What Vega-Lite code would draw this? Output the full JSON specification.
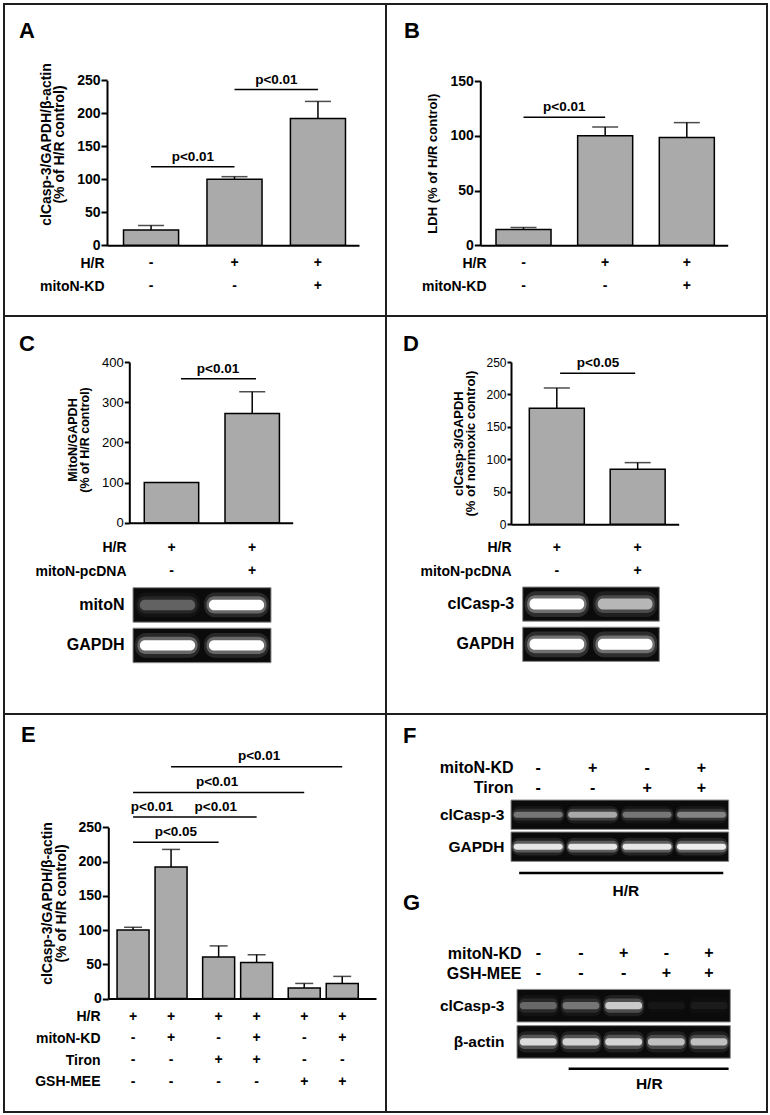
{
"$schema": "https://vega.github.io/schema/vega-lite/v6.json",
"padding": {"left": 3, "top": 3, "right": 0, "bottom": 0},
"background": "white",
"columns": 2,
"spacing": 0,
"bounds": "flush",
"align": "each",
"config": {
 "font": "Liberation Sans",
 "view": {"stroke": "#1e1e1e", "strokeWidth": 2},
 "axis": {"grid": false, "domainColor": "black", "tickColor": "black", "labelColor": "black", "titleColor": "black", "labelFont": "Liberation Sans", "titleFont": "Liberation Sans", "domainWidth": 2, "tickWidth": 2, "labelFontWeight": "bold", "labelFontSize": 14, "titleFontWeight": "bold", "titleFontSize": 14, "titleLineHeight": 14, "labelOverlap": false, "labelPadding": 1, "tickSize": 6},
 "title": {"font": "Liberation Sans", "fontWeight": "bold", "fontSize": 22, "color": "black", "anchor": "start", "frame": "group", "baseline": "alphabetic"},
 "legend": {"disable": true}
},
"datasets": {
 "A_bars": [{"c":"1","v":23,"e":30},{"c":"2","v":100,"e":104},{"c":"3","v":192,"e":218}],
 "A_sig": [{"from":"1","to":"2","y":119,"label":"p<0.01"},{"from":"2","to":"3","y":236,"label":"p<0.01"}],
 "AB_table": [{"row":"H/R","c":"1","s":"-"},{"row":"H/R","c":"2","s":"+"},{"row":"H/R","c":"3","s":"+"},{"row":"mitoN-KD","c":"1","s":"-"},{"row":"mitoN-KD","c":"2","s":"-"},{"row":"mitoN-KD","c":"3","s":"+"}],
 "B_bars": [{"c":"1","v":14.5,"e":16.3},{"c":"2","v":100,"e":108},{"c":"3","v":98.5,"e":112}],
 "B_sig": [{"from":"1","to":"2","y":117,"label":"p<0.01"}],
 "C_bars": [{"c":"1","v":100,"e":null},{"c":"2","v":272,"e":326}],
 "C_sig": [{"from":"1","to":"2","y":358,"label":"p<0.01"}],
 "CD_table": [{"row":"H/R","c":"1","s":"+"},{"row":"H/R","c":"2","s":"+"},{"row":"mitoN-pcDNA","c":"1","s":"-"},{"row":"mitoN-pcDNA","c":"2","s":"+"}],
 "C_blot": [{"lane":"1","row":"mitoN","i":0.28},{"lane":"2","row":"mitoN","i":1},{"lane":"1","row":"GAPDH","i":1},{"lane":"2","row":"GAPDH","i":1}],
 "C_strip": [{"row":"mitoN","first":"1","last":"2"},{"row":"GAPDH","first":"1","last":"2"}],
 "D_bars": [{"c":"1","v":178.7,"e":210},{"c":"2","v":84.7,"e":95}],
 "D_sig": [{"from":"1","to":"2","y":232.6,"label":"p<0.05"}],
 "D_blot": [{"lane":"1","row":"clCasp-3","i":1},{"lane":"2","row":"clCasp-3","i":0.6},{"lane":"1","row":"GAPDH","i":1},{"lane":"2","row":"GAPDH","i":1}],
 "D_strip": [{"row":"clCasp-3","first":"1","last":"2"},{"row":"GAPDH","first":"1","last":"2"}],
 "E_bars": [{"g":"g1","m":"m1","v":100,"e":104},{"g":"g1","m":"m2","v":192,"e":217.7},{"g":"g2","m":"m1","v":60.5,"e":76.8},{"g":"g2","m":"m2","v":52.7,"e":64},{"g":"g3","m":"m1","v":15.3,"e":22},{"g":"g3","m":"m2","v":22,"e":32.3}],
 "E_sig": [{"id":"L1","fromG":"g1","toG":"g1","pair":"m1m2","y":265,"label":"p<0.01"},{"id":"L2","fromG":"g1","toG":"g2","pair":"m1m1","y":228,"label":"p<0.05"},{"id":"L3","fromG":"g1","toG":"g2","pair":"m2m2","y":265,"label":"p<0.01"},{"id":"L4","fromG":"g1","toG":"g3","pair":"m1m1","y":301,"label":"p<0.01"},{"id":"L5","fromG":"g1","toG":"g3","pair":"m2m2","y":338.5,"label":"p<0.01"}],
 "E_table": [
  {"row":"H/R","g":"g1","m":"m1","s":"+"},{"row":"H/R","g":"g1","m":"m2","s":"+"},{"row":"H/R","g":"g2","m":"m1","s":"+"},{"row":"H/R","g":"g2","m":"m2","s":"+"},{"row":"H/R","g":"g3","m":"m1","s":"+"},{"row":"H/R","g":"g3","m":"m2","s":"+"},
  {"row":"mitoN-KD","g":"g1","m":"m1","s":"-"},{"row":"mitoN-KD","g":"g1","m":"m2","s":"+"},{"row":"mitoN-KD","g":"g2","m":"m1","s":"-"},{"row":"mitoN-KD","g":"g2","m":"m2","s":"+"},{"row":"mitoN-KD","g":"g3","m":"m1","s":"-"},{"row":"mitoN-KD","g":"g3","m":"m2","s":"+"},
  {"row":"Tiron","g":"g1","m":"m1","s":"-"},{"row":"Tiron","g":"g1","m":"m2","s":"-"},{"row":"Tiron","g":"g2","m":"m1","s":"+"},{"row":"Tiron","g":"g2","m":"m2","s":"+"},{"row":"Tiron","g":"g3","m":"m1","s":"-"},{"row":"Tiron","g":"g3","m":"m2","s":"-"},
  {"row":"GSH-MEE","g":"g1","m":"m1","s":"-"},{"row":"GSH-MEE","g":"g1","m":"m2","s":"-"},{"row":"GSH-MEE","g":"g2","m":"m1","s":"-"},{"row":"GSH-MEE","g":"g2","m":"m2","s":"-"},{"row":"GSH-MEE","g":"g3","m":"m1","s":"+"},{"row":"GSH-MEE","g":"g3","m":"m2","s":"+"}],
 "F_table": [{"row":"mitoN-KD","lane":"1","s":"-"},{"row":"mitoN-KD","lane":"2","s":"+"},{"row":"mitoN-KD","lane":"3","s":"-"},{"row":"mitoN-KD","lane":"4","s":"+"},{"row":"Tiron","lane":"1","s":"-"},{"row":"Tiron","lane":"2","s":"-"},{"row":"Tiron","lane":"3","s":"+"},{"row":"Tiron","lane":"4","s":"+"}],
 "F_blot": [{"lane":"1","row":"clCasp-3","i":0.35},{"lane":"2","row":"clCasp-3","i":0.55},{"lane":"3","row":"clCasp-3","i":0.35},{"lane":"4","row":"clCasp-3","i":0.4},{"lane":"1","row":"GAPDH","i":0.85},{"lane":"2","row":"GAPDH","i":0.85},{"lane":"3","row":"GAPDH","i":0.85},{"lane":"4","row":"GAPDH","i":0.9}],
 "F_strip": [{"row":"clCasp-3","first":"1","last":"4"},{"row":"GAPDH","first":"1","last":"4"}],
 "F_hr": [{"kind":"line","a":"1","b":"4","text":""},{"kind":"label","a":"3","b":"3","text":"H/R"}],
 "G_table": [{"row":"mitoN-KD","lane":"1","s":"-"},{"row":"mitoN-KD","lane":"2","s":"-"},{"row":"mitoN-KD","lane":"3","s":"+"},{"row":"mitoN-KD","lane":"4","s":"-"},{"row":"mitoN-KD","lane":"5","s":"+"},{"row":"GSH-MEE","lane":"1","s":"-"},{"row":"GSH-MEE","lane":"2","s":"-"},{"row":"GSH-MEE","lane":"3","s":"-"},{"row":"GSH-MEE","lane":"4","s":"+"},{"row":"GSH-MEE","lane":"5","s":"+"}],
 "G_blot": [{"lane":"1","row":"clCasp-3","i":0.3},{"lane":"2","row":"clCasp-3","i":0.35},{"lane":"3","row":"clCasp-3","i":0.7},{"lane":"4","row":"clCasp-3","i":0.04},{"lane":"5","row":"clCasp-3","i":0.05},{"lane":"1","row":"β-actin","i":0.8},{"lane":"2","row":"β-actin","i":0.75},{"lane":"3","row":"β-actin","i":0.75},{"lane":"4","row":"β-actin","i":0.65},{"lane":"5","row":"β-actin","i":0.65}],
 "G_strip": [{"row":"clCasp-3","first":"1","last":"5"},{"row":"β-actin","first":"1","last":"5"}],
 "G_hr": [{"kind":"line","a":"2","b":"5","text":""},{"kind":"label","a":"4","b":"4","text":"H/R"}]
},
"concat": [
  {
   "width": 382, "height": 312,
   "title": {"text": "A", "offset": -38.7, "dx": 15},
   "resolve": {"scale": {"y": "independent"}},
   "layer": [
    {"layer": [
     {"data": {"name": "A_bars"}, "mark": {"type": "bar", "fill": "#aaaaaa", "stroke": "black", "strokeWidth": 1.5},
      "encoding": {
       "x": {"field": "c", "type": "nominal", "scale": {"domain": ["1","2","3"], "range": [103, 355], "paddingInner": 0.34, "paddingOuter": 0.18, "align": 0.55}, "axis": {"orient": "bottom", "offset": -70.7, "labels": false, "ticks": false, "title": null}},
       "y": {"field": "v", "type": "quantitative", "scale": {"domain": [0, 250], "range": [241.3, 76.3], "nice": false}, "axis": {"orient": "left", "offset": -103, "values": [0,50,100,150,200,250], "title": ["clCasp-3/GAPDH/β-actin", "(% of H/R control)"], "titleFontSize": 14, "titleLineHeight": 13.5, "titlePadding": 10, "titleY": 140}}
      }},
     {"data": {"name": "A_bars"}, "mark": {"type": "rule", "color": "black", "strokeWidth": 1.5},
      "encoding": {"x": {"field": "c", "type": "nominal"}, "y": {"field": "v", "type": "quantitative"}, "y2": {"field": "e"}}},
     {"data": {"name": "A_bars"}, "mark": {"type": "tick", "color": "black", "thickness": 1.5, "size": 26},
      "encoding": {"x": {"field": "c", "type": "nominal"}, "y": {"field": "e", "type": "quantitative"}}},
     {"data": {"name": "A_sig"}, "mark": {"type": "rule", "color": "black", "strokeWidth": 1.5},
      "encoding": {"x": {"field": "from", "type": "nominal", "bandPosition": 0.5}, "x2": {"field": "to", "bandPosition": 0.5}, "y": {"field": "y", "type": "quantitative"}}},
     {"data": {"name": "A_sig"}, "mark": {"type": "text", "dy": -6, "baseline": "alphabetic", "fontSize": 13.5, "fontWeight": "bold", "color": "black"},
      "encoding": {"x": {"field": "from", "type": "nominal", "bandPosition": 1.26}, "y": {"field": "y", "type": "quantitative"}, "text": {"field": "label"}}}
    ]},
    {"data": {"name": "AB_table"}, "mark": {"type": "text", "fontSize": 14, "fontWeight": "bold", "color": "black", "baseline": "middle"},
     "encoding": {"x": {"field": "c", "type": "nominal"}, "y": {"field": "row", "type": "nominal", "scale": {"type": "point", "domain": ["H/R","mitoN-KD"], "range": [259.3, 282], "padding": 0}, "axis": {"orient": "left", "offset": -103, "domain": false, "ticks": false, "labelPadding": 3, "title": null}}, "text": {"field": "s"}}}
   ]
  },
  {
   "width": 381, "height": 312,
   "title": {"text": "B", "offset": -38.7, "dx": 18},
   "resolve": {"scale": {"y": "independent"}},
   "layer": [
    {"layer": [
     {"data": {"name": "B_bars"}, "mark": {"type": "bar", "fill": "#aaaaaa", "stroke": "black", "strokeWidth": 1.5},
      "encoding": {
       "x": {"field": "c", "type": "nominal", "scale": {"domain": ["1","2","3"], "range": [94.3, 341.7], "paddingInner": 0.326, "paddingOuter": 0.178, "align": 0.54}, "axis": {"orient": "bottom", "offset": -70.7, "labels": false, "ticks": false, "title": null}},
       "y": {"field": "v", "type": "quantitative", "scale": {"domain": [0, 150], "range": [241.3, 77], "nice": false}, "axis": {"orient": "left", "offset": -94.3, "values": [0,50,100,150], "title": "LDH (% of H/R control)", "titleFontSize": 13, "titlePadding": 10}}
      }},
     {"data": {"name": "B_bars"}, "mark": {"type": "rule", "color": "black", "strokeWidth": 1.5},
      "encoding": {"x": {"field": "c", "type": "nominal"}, "y": {"field": "v", "type": "quantitative"}, "y2": {"field": "e"}}},
     {"data": {"name": "B_bars"}, "mark": {"type": "tick", "color": "black", "thickness": 1.5, "size": 26},
      "encoding": {"x": {"field": "c", "type": "nominal"}, "y": {"field": "e", "type": "quantitative"}}},
     {"data": {"name": "B_sig"}, "mark": {"type": "rule", "color": "black", "strokeWidth": 1.5},
      "encoding": {"x": {"field": "from", "type": "nominal", "bandPosition": 0.5}, "x2": {"field": "to", "bandPosition": 0.5}, "y": {"field": "y", "type": "quantitative"}}},
     {"data": {"name": "B_sig"}, "mark": {"type": "text", "dy": -6, "baseline": "alphabetic", "fontSize": 13.5, "fontWeight": "bold", "color": "black"},
      "encoding": {"x": {"field": "from", "type": "nominal", "bandPosition": 1.24}, "y": {"field": "y", "type": "quantitative"}, "text": {"field": "label"}}}
    ]},
    {"data": {"name": "AB_table"}, "mark": {"type": "text", "fontSize": 14, "fontWeight": "bold", "color": "black", "baseline": "middle"},
     "encoding": {"x": {"field": "c", "type": "nominal"}, "y": {"field": "row", "type": "nominal", "scale": {"type": "point", "domain": ["H/R","mitoN-KD"], "range": [259.3, 282], "padding": 0}, "axis": {"orient": "left", "offset": -103, "domain": false, "ticks": false, "labelPadding": 3, "title": null}}, "text": {"field": "s"}}}
   ]
  },
  {
   "width": 382, "height": 398,
   "title": {"text": "C", "offset": -40, "dx": 15},
   "resolve": {"scale": {"x": "independent", "y": "independent"}},
   "layer": [
    {"resolve": {"scale": {"y": "independent"}},
     "layer": [
     {"layer": [
      {"data": {"name": "C_bars"}, "mark": {"type": "bar", "fill": "#aaaaaa", "stroke": "black", "strokeWidth": 1.5},
       "encoding": {
        "x": {"field": "c", "type": "nominal", "scale": {"domain": ["1","2"], "range": [125.3, 288.7], "paddingInner": 0.326, "paddingOuter": 0.175, "align": 0.53}, "axis": {"orient": "bottom", "offset": -191.3, "labels": false, "ticks": false, "title": null}},
        "y": {"field": "v", "type": "quantitative", "scale": {"domain": [0, 400], "range": [206.7, 46], "nice": false}, "axis": {"orient": "left", "offset": -125.3, "values": [0,100,200,300,400], "labelFontWeight": "normal", "labelFontSize": 13, "tickSize": 5, "title": ["MitoN/GAPDH", "(% of H/R control)"], "titleFontSize": 12.5, "titleLineHeight": 12.5, "titlePadding": 10, "titleY": 123.5}}
       }},
      {"data": {"name": "C_bars"}, "transform": [{"filter": "datum.e != null"}], "mark": {"type": "rule", "color": "black", "strokeWidth": 1.5},
       "encoding": {"x": {"field": "c", "type": "nominal"}, "y": {"field": "v", "type": "quantitative"}, "y2": {"field": "e"}}},
      {"data": {"name": "C_bars"}, "transform": [{"filter": "datum.e != null"}], "mark": {"type": "tick", "color": "black", "thickness": 1.5, "size": 26},
       "encoding": {"x": {"field": "c", "type": "nominal"}, "y": {"field": "e", "type": "quantitative"}}},
      {"data": {"name": "C_sig"}, "mark": {"type": "rule", "color": "black", "strokeWidth": 1.5},
       "encoding": {"x": {"field": "from", "type": "nominal", "bandPosition": 0.675}, "x2": {"field": "to", "bandPosition": 0.57}, "y": {"field": "y", "type": "quantitative"}}},
      {"data": {"name": "C_sig"}, "mark": {"type": "text", "dy": -6, "baseline": "alphabetic", "fontSize": 13.5, "fontWeight": "bold", "color": "black"},
       "encoding": {"x": {"field": "from", "type": "nominal", "bandPosition": 1.355}, "y": {"field": "y", "type": "quantitative"}, "text": {"field": "label"}}}
     ]},
     {"data": {"name": "CD_table"}, "mark": {"type": "text", "fontSize": 14, "fontWeight": "bold", "color": "black", "baseline": "middle"},
      "encoding": {"x": {"field": "c", "type": "nominal"}, "y": {"field": "row", "type": "nominal", "scale": {"type": "point", "domain": ["H/R","mitoN-pcDNA"], "range": [231.7, 255.3], "padding": 0}, "axis": {"orient": "left", "offset": -125, "domain": false, "ticks": false, "labelPadding": 3, "title": null}}, "text": {"field": "s"}}}
    ]},
    {"resolve": {"scale": {"opacity": "independent"}},
     "layer": [
     {"data": {"name": "C_strip"}, "mark": {"type": "rect", "fill": "#0b0b0b", "stroke": "#8c8c8c", "strokeWidth": 1},
      "encoding": {
       "x": {"field": "first", "type": "nominal", "bandPosition": 0, "scale": {"domain": ["1","2"], "range": [129, 267], "paddingInner": 0, "paddingOuter": 0}, "axis": null},
       "x2": {"field": "last", "bandPosition": 1},
       "y": {"field": "row", "type": "nominal", "scale": {"domain": ["mitoN","GAPDH"], "range": [271.7, 346.7], "paddingInner": 0.148, "paddingOuter": 0}, "axis": {"orient": "left", "offset": -129, "domain": false, "ticks": false, "labelPadding": 9, "labelFontSize": 16, "title": null}}
      }},
     {"data": {"name": "C_blot"}, "mark": {"type": "rect", "fill": "white", "width": {"band": 0.94}, "height": {"band": 0.72}, "cornerRadius": 11},
      "encoding": {"x": {"field": "lane", "type": "nominal"}, "y": {"field": "row", "type": "nominal"}, "opacity": {"field": "i", "type": "quantitative", "scale": {"domain": [0, 1], "range": [0, 0.12]}, "legend": null}}},
     {"data": {"name": "C_blot"}, "mark": {"type": "rect", "fill": "white", "width": {"band": 0.87}, "height": {"band": 0.5}, "cornerRadius": 8},
      "encoding": {"x": {"field": "lane", "type": "nominal"}, "y": {"field": "row", "type": "nominal"}, "opacity": {"field": "i", "type": "quantitative", "scale": {"domain": [0, 1], "range": [0, 0.3]}, "legend": null}}},
     {"data": {"name": "C_blot"}, "mark": {"type": "rect", "fill": "white", "width": {"band": 0.8}, "height": {"band": 0.3}, "cornerRadius": 5},
      "encoding": {"x": {"field": "lane", "type": "nominal"}, "y": {"field": "row", "type": "nominal"}, "opacity": {"field": "i", "type": "quantitative", "scale": {"domain": [0, 1], "range": [0, 1]}, "legend": null}}}
    ]}
   ]
  },
  {
   "width": 381, "height": 398,
   "title": {"text": "D", "offset": -40, "dx": 17},
   "resolve": {"scale": {"x": "independent", "y": "independent"}},
   "layer": [
    {"resolve": {"scale": {"y": "independent"}},
     "layer": [
     {"layer": [
      {"data": {"name": "D_bars"}, "mark": {"type": "bar", "fill": "#aaaaaa", "stroke": "black", "strokeWidth": 1.5},
       "encoding": {
        "x": {"field": "c", "type": "nominal", "scale": {"domain": ["1","2"], "range": [125, 292.7], "paddingInner": 0.32, "paddingOuter": 0.197, "align": 0.575}, "axis": {"orient": "bottom", "offset": -189.7, "labels": false, "ticks": false, "title": null}},
        "y": {"field": "v", "type": "quantitative", "scale": {"domain": [0, 250], "range": [208.3, 46], "nice": false}, "axis": {"orient": "left", "offset": -125, "values": [0,50,100,150,200,250], "labelFontWeight": "normal", "labelFontSize": 12, "tickSize": 4, "title": ["clCasp-3/GAPDH", "(% of normoxic control)"], "titleFontSize": 13, "titleLineHeight": 12.5, "titlePadding": 8}}
       }},
      {"data": {"name": "D_bars"}, "mark": {"type": "rule", "color": "black", "strokeWidth": 1.5},
       "encoding": {"x": {"field": "c", "type": "nominal"}, "y": {"field": "v", "type": "quantitative"}, "y2": {"field": "e"}}},
      {"data": {"name": "D_bars"}, "mark": {"type": "tick", "color": "black", "thickness": 1.5, "size": 26},
       "encoding": {"x": {"field": "c", "type": "nominal"}, "y": {"field": "e", "type": "quantitative"}}},
      {"data": {"name": "D_sig"}, "mark": {"type": "rule", "color": "black", "strokeWidth": 1.5},
       "encoding": {"x": {"field": "from", "type": "nominal", "bandPosition": 0.56}, "x2": {"field": "to", "bandPosition": 0.455}, "y": {"field": "y", "type": "quantitative"}}},
      {"data": {"name": "D_sig"}, "mark": {"type": "text", "dy": -6, "baseline": "alphabetic", "fontSize": 13.5, "fontWeight": "bold", "color": "black"},
       "encoding": {"x": {"field": "from", "type": "nominal", "bandPosition": 1.25}, "y": {"field": "y", "type": "quantitative"}, "text": {"field": "label"}}}
     ]},
     {"data": {"name": "CD_table"}, "mark": {"type": "text", "fontSize": 14, "fontWeight": "bold", "color": "black", "baseline": "middle"},
      "encoding": {"x": {"field": "c", "type": "nominal"}, "y": {"field": "row", "type": "nominal", "scale": {"type": "point", "domain": ["H/R","mitoN-pcDNA"], "range": [231.7, 255.3], "padding": 0}, "axis": {"orient": "left", "offset": -128, "domain": false, "ticks": false, "labelPadding": 3, "title": null}}, "text": {"field": "s"}}}
    ]},
    {"resolve": {"scale": {"opacity": "independent"}},
     "layer": [
     {"data": {"name": "D_strip"}, "mark": {"type": "rect", "fill": "#0b0b0b", "stroke": "#8c8c8c", "strokeWidth": 1},
      "encoding": {
       "x": {"field": "first", "type": "nominal", "bandPosition": 0, "scale": {"domain": ["1","2"], "range": [136.7, 273.3], "paddingInner": 0, "paddingOuter": 0}, "axis": null},
       "x2": {"field": "last", "bandPosition": 1},
       "y": {"field": "row", "type": "nominal", "scale": {"domain": ["clCasp-3","GAPDH"], "range": [271, 345.4], "paddingInner": 0.15, "paddingOuter": 0}, "axis": {"orient": "left", "offset": -136.7, "domain": false, "ticks": false, "labelPadding": 9, "labelFontSize": 16, "title": null}}
      }},
     {"data": {"name": "D_blot"}, "mark": {"type": "rect", "fill": "white", "width": {"band": 0.94}, "height": {"band": 0.75}, "cornerRadius": 11},
      "encoding": {"x": {"field": "lane", "type": "nominal"}, "y": {"field": "row", "type": "nominal"}, "opacity": {"field": "i", "type": "quantitative", "scale": {"domain": [0, 1], "range": [0, 0.14]}, "legend": null}}},
     {"data": {"name": "D_blot"}, "mark": {"type": "rect", "fill": "white", "width": {"band": 0.87}, "height": {"band": 0.52}, "cornerRadius": 8},
      "encoding": {"x": {"field": "lane", "type": "nominal"}, "y": {"field": "row", "type": "nominal"}, "opacity": {"field": "i", "type": "quantitative", "scale": {"domain": [0, 1], "range": [0, 0.32]}, "legend": null}}},
     {"data": {"name": "D_blot"}, "mark": {"type": "rect", "fill": "white", "width": {"band": 0.8}, "height": {"band": 0.32}, "cornerRadius": 5},
      "encoding": {"x": {"field": "lane", "type": "nominal"}, "y": {"field": "row", "type": "nominal"}, "opacity": {"field": "i", "type": "quantitative", "scale": {"domain": [0, 1], "range": [0, 1]}, "legend": null}}}
    ]}
   ]
  },
  {
   "width": 382, "height": 398,
   "title": {"text": "E", "offset": -32.7, "dx": 17},
   "resolve": {"scale": {"y": "independent"}},
   "layer": [
    {"layer": [
     {"data": {"name": "E_bars"}, "mark": {"type": "bar", "fill": "#aaaaaa", "stroke": "black", "strokeWidth": 1.5},
      "encoding": {
       "x": {"field": "g", "type": "nominal", "scale": {"domain": ["g1","g2","g3"], "range": [104.3, 372], "paddingInner": 0.182, "paddingOuter": 0.155, "align": 0.33}, "axis": {"orient": "bottom", "offset": -113.5, "labels": false, "ticks": false, "title": null}},
       "xOffset": {"field": "m", "type": "nominal", "scale": {"domain": ["m1","m2"], "paddingInner": 0.158, "paddingOuter": 0}},
       "y": {"field": "v", "type": "quantitative", "scale": {"domain": [0, 250], "range": [284.5, 113.3], "nice": false}, "axis": {"orient": "left", "offset": -104.3, "values": [0,50,100,150,200,250], "title": ["clCasp-3/GAPDH/β-actin", "(% of H/R control)"], "titleFontSize": 14, "titleLineHeight": 14.5, "titlePadding": 9, "titleY": 189}}
      }},
     {"data": {"name": "E_bars"}, "mark": {"type": "rule", "color": "black", "strokeWidth": 1.5},
      "encoding": {"x": {"field": "g", "type": "nominal"}, "xOffset": {"field": "m", "type": "nominal"}, "y": {"field": "v", "type": "quantitative"}, "y2": {"field": "e"}}},
     {"data": {"name": "E_bars"}, "mark": {"type": "tick", "color": "black", "thickness": 1.5, "size": 18},
      "encoding": {"x": {"field": "g", "type": "nominal"}, "xOffset": {"field": "m", "type": "nominal"}, "y": {"field": "e", "type": "quantitative"}}},
     {"data": {"name": "E_sig"}, "transform": [{"filter": "datum.pair == 'm1m1'"}], "mark": {"type": "rule", "color": "black", "strokeWidth": 1.5},
      "encoding": {"x": {"field": "fromG", "type": "nominal", "bandPosition": 0.2286}, "x2": {"field": "toG", "bandPosition": 0.2286}, "y": {"field": "y", "type": "quantitative"}}},
     {"data": {"name": "E_sig"}, "transform": [{"filter": "datum.pair == 'm2m2'"}], "mark": {"type": "rule", "color": "black", "strokeWidth": 1.5},
      "encoding": {"x": {"field": "fromG", "type": "nominal", "bandPosition": 0.7714}, "x2": {"field": "toG", "bandPosition": 0.7714}, "y": {"field": "y", "type": "quantitative"}}},
     {"data": {"name": "E_sig"}, "transform": [{"filter": "datum.pair == 'm1m2'"}], "mark": {"type": "rule", "color": "black", "strokeWidth": 1.5},
      "encoding": {"x": {"field": "fromG", "type": "nominal", "bandPosition": 0.2286}, "x2": {"field": "toG", "bandPosition": 0.7714}, "y": {"field": "y", "type": "quantitative"}}},
     {"data": {"name": "E_sig"}, "transform": [{"filter": "datum.id == 'L1'"}], "mark": {"type": "text", "dy": -6.5, "baseline": "alphabetic", "fontSize": 13.5, "fontWeight": "bold", "color": "black"},
      "encoding": {"x": {"field": "fromG", "type": "nominal", "bandPosition": 0.5}, "y": {"field": "y", "type": "quantitative"}, "text": {"field": "label"}}},
     {"data": {"name": "E_sig"}, "transform": [{"filter": "datum.id == 'L2'"}], "mark": {"type": "text", "dy": -6.5, "baseline": "alphabetic", "fontSize": 13.5, "fontWeight": "bold", "color": "black"},
      "encoding": {"x": {"field": "fromG", "type": "nominal", "bandPosition": 0.84}, "y": {"field": "y", "type": "quantitative"}, "text": {"field": "label"}}},
     {"data": {"name": "E_sig"}, "transform": [{"filter": "datum.id == 'L3'"}], "mark": {"type": "text", "dy": -6.5, "baseline": "alphabetic", "fontSize": 13.5, "fontWeight": "bold", "color": "black"},
      "encoding": {"x": {"field": "fromG", "type": "nominal", "bandPosition": 1.41}, "y": {"field": "y", "type": "quantitative"}, "text": {"field": "label"}}},
     {"data": {"name": "E_sig"}, "transform": [{"filter": "datum.id == 'L4'"}], "mark": {"type": "text", "dy": -6.5, "baseline": "alphabetic", "fontSize": 13.5, "fontWeight": "bold", "color": "black"},
      "encoding": {"x": {"field": "fromG", "type": "nominal", "bandPosition": 1.43}, "y": {"field": "y", "type": "quantitative"}, "text": {"field": "label"}}},
     {"data": {"name": "E_sig"}, "transform": [{"filter": "datum.id == 'L5'"}], "mark": {"type": "text", "dy": -6.5, "baseline": "alphabetic", "fontSize": 13.5, "fontWeight": "bold", "color": "black"},
      "encoding": {"x": {"field": "fromG", "type": "nominal", "bandPosition": 2.03}, "y": {"field": "y", "type": "quantitative"}, "text": {"field": "label"}}}
    ]},
    {"data": {"name": "E_table"}, "mark": {"type": "text", "fontSize": 14, "fontWeight": "bold", "color": "black", "baseline": "middle"},
     "encoding": {"x": {"field": "g", "type": "nominal"}, "xOffset": {"field": "m", "type": "nominal"}, "y": {"field": "row", "type": "nominal", "scale": {"type": "point", "domain": ["H/R","mitoN-KD","Tiron","GSH-MEE"], "range": [302.8, 367.7], "padding": 0}, "axis": {"orient": "left", "offset": -99, "domain": false, "ticks": false, "labelPadding": 3, "title": null}}, "text": {"field": "s"}}}
   ]
  },
  {
   "width": 381, "height": 398,
   "title": {"text": ["F", "G"], "lineHeight": 166.6, "offset": -201, "dx": 17},
   "resolve": {"scale": {"x": "independent", "y": "independent"}},
   "layer": [
    {"resolve": {"scale": {"y": "independent"}},
     "layer": [
     {"data": {"name": "F_table"}, "mark": {"type": "text", "fontSize": 16, "fontWeight": "bold", "color": "black", "baseline": "middle"},
      "encoding": {"x": {"field": "lane", "type": "nominal", "scale": {"domain": ["1","2","3","4"], "range": [125, 342.7], "paddingInner": 0, "paddingOuter": 0}, "axis": null}, "y": {"field": "row", "type": "nominal", "scale": {"type": "point", "domain": ["mitoN-KD","Tiron"], "range": [53.7, 73.7], "padding": 0}, "axis": {"orient": "left", "offset": -130, "domain": false, "ticks": false, "labelPadding": 3, "labelFontSize": 16, "title": null}}, "text": {"field": "s"}}},
     {"resolve": {"scale": {"opacity": "independent"}},
      "layer": [
      {"data": {"name": "F_strip"}, "mark": {"type": "rect", "fill": "#0b0b0b", "stroke": "#8c8c8c", "strokeWidth": 1},
       "encoding": {
        "x": {"field": "first", "type": "nominal", "bandPosition": 0},
        "x2": {"field": "last", "bandPosition": 1},
        "y": {"field": "row", "type": "nominal", "scale": {"domain": ["clCasp-3","GAPDH"], "range": [86, 147.4], "paddingInner": 0.08, "paddingOuter": 0}, "axis": {"orient": "left", "offset": -125, "domain": false, "ticks": false, "labelPadding": 7, "labelFontSize": 15.5, "title": null}}
       }},
      {"data": {"name": "F_blot"}, "mark": {"type": "rect", "fill": "white", "width": {"band": 0.98}, "height": {"band": 0.6}, "cornerRadius": 8},
       "encoding": {"x": {"field": "lane", "type": "nominal"}, "y": {"field": "row", "type": "nominal"}, "opacity": {"field": "i", "type": "quantitative", "scale": {"domain": [0, 1], "range": [0, 0.12]}, "legend": null}}},
      {"data": {"name": "F_blot"}, "mark": {"type": "rect", "fill": "white", "width": {"band": 0.95}, "height": {"band": 0.4}, "cornerRadius": 6},
       "encoding": {"x": {"field": "lane", "type": "nominal"}, "y": {"field": "row", "type": "nominal"}, "opacity": {"field": "i", "type": "quantitative", "scale": {"domain": [0, 1], "range": [0, 0.3]}, "legend": null}}},
      {"data": {"name": "F_blot"}, "mark": {"type": "rect", "fill": "white", "width": {"band": 0.9}, "height": {"band": 0.2}, "cornerRadius": 3},
       "encoding": {"x": {"field": "lane", "type": "nominal"}, "y": {"field": "row", "type": "nominal"}, "opacity": {"field": "i", "type": "quantitative", "scale": {"domain": [0, 1], "range": [0, 1]}, "legend": null}}}
     ]},
     {"layer": [
      {"data": {"name": "F_hr"}, "transform": [{"filter": "datum.kind == 'line'"}], "mark": {"type": "rule", "color": "black", "strokeWidth": 2.5},
       "encoding": {"x": {"field": "a", "type": "nominal", "bandPosition": 0.15}, "x2": {"field": "b", "bandPosition": 0.9}, "y": {"field": "kind", "type": "nominal", "scale": {"type": "point", "domain": ["line","label"], "range": [159, 176.5], "padding": 0}, "axis": null}}},
      {"data": {"name": "F_hr"}, "transform": [{"filter": "datum.kind == 'label'"}], "mark": {"type": "text", "fontSize": 15.5, "fontWeight": "bold", "color": "black", "baseline": "middle"},
       "encoding": {"x": {"field": "a", "type": "nominal", "bandPosition": 0.11}, "y": {"field": "kind", "type": "nominal"}, "text": {"field": "text"}}}
     ]}
    ]},
    {"resolve": {"scale": {"y": "independent"}},
     "layer": [
     {"data": {"name": "G_table"}, "mark": {"type": "text", "fontSize": 16, "fontWeight": "bold", "color": "black", "baseline": "middle"},
      "encoding": {"x": {"field": "lane", "type": "nominal", "scale": {"domain": ["1","2","3","4","5"], "range": [131, 344.3], "paddingInner": 0, "paddingOuter": 0}, "axis": null}, "y": {"field": "row", "type": "nominal", "scale": {"type": "point", "domain": ["mitoN-KD","GSH-MEE"], "range": [239, 259], "padding": 0}, "axis": {"orient": "left", "offset": -138, "domain": false, "ticks": false, "labelPadding": 3, "labelFontSize": 16, "title": null}}, "text": {"field": "s"}}},
     {"resolve": {"scale": {"opacity": "independent"}},
      "layer": [
      {"data": {"name": "G_strip"}, "mark": {"type": "rect", "fill": "#0b0b0b", "stroke": "#8c8c8c", "strokeWidth": 1},
       "encoding": {
        "x": {"field": "first", "type": "nominal", "bandPosition": 0},
        "x2": {"field": "last", "bandPosition": 1},
        "y": {"field": "row", "type": "nominal", "scale": {"domain": ["clCasp-3","β-actin"], "range": [275.4, 344.2], "paddingInner": 0.1, "paddingOuter": 0}, "axis": {"orient": "left", "offset": -131, "domain": false, "ticks": false, "labelPadding": 13, "labelFontSize": 15.5, "title": null}}
       }},
      {"data": {"name": "G_blot"}, "mark": {"type": "rect", "fill": "white", "width": {"band": 0.97}, "height": {"band": 0.65}, "cornerRadius": 8},
       "encoding": {"x": {"field": "lane", "type": "nominal"}, "y": {"field": "row", "type": "nominal"}, "opacity": {"field": "i", "type": "quantitative", "scale": {"domain": [0, 1], "range": [0, 0.12]}, "legend": null}}},
      {"data": {"name": "G_blot"}, "mark": {"type": "rect", "fill": "white", "width": {"band": 0.92}, "height": {"band": 0.44}, "cornerRadius": 6},
       "encoding": {"x": {"field": "lane", "type": "nominal"}, "y": {"field": "row", "type": "nominal"}, "opacity": {"field": "i", "type": "quantitative", "scale": {"domain": [0, 1], "range": [0, 0.3]}, "legend": null}}},
      {"data": {"name": "G_blot"}, "mark": {"type": "rect", "fill": "white", "width": {"band": 0.86}, "height": {"band": 0.22}, "cornerRadius": 3},
       "encoding": {"x": {"field": "lane", "type": "nominal"}, "y": {"field": "row", "type": "nominal"}, "opacity": {"field": "i", "type": "quantitative", "scale": {"domain": [0, 1], "range": [0, 1]}, "legend": null}}}
     ]},
     {"layer": [
      {"data": {"name": "G_hr"}, "transform": [{"filter": "datum.kind == 'line'"}], "mark": {"type": "rule", "color": "black", "strokeWidth": 2.5},
       "encoding": {"x": {"field": "a", "type": "nominal", "bandPosition": 0.21}, "x2": {"field": "b", "bandPosition": 0.96}, "y": {"field": "kind", "type": "nominal", "scale": {"type": "point", "domain": ["line","label"], "range": [354.7, 370.1], "padding": 0}, "axis": null}}},
      {"data": {"name": "G_hr"}, "transform": [{"filter": "datum.kind == 'label'"}], "mark": {"type": "text", "fontSize": 15.5, "fontWeight": "bold", "color": "black", "baseline": "middle"},
       "encoding": {"x": {"field": "a", "type": "nominal", "bandPosition": 0.1}, "y": {"field": "kind", "type": "nominal"}, "text": {"field": "text"}}}
     ]}
    ]}
   ]
  }
]
}
